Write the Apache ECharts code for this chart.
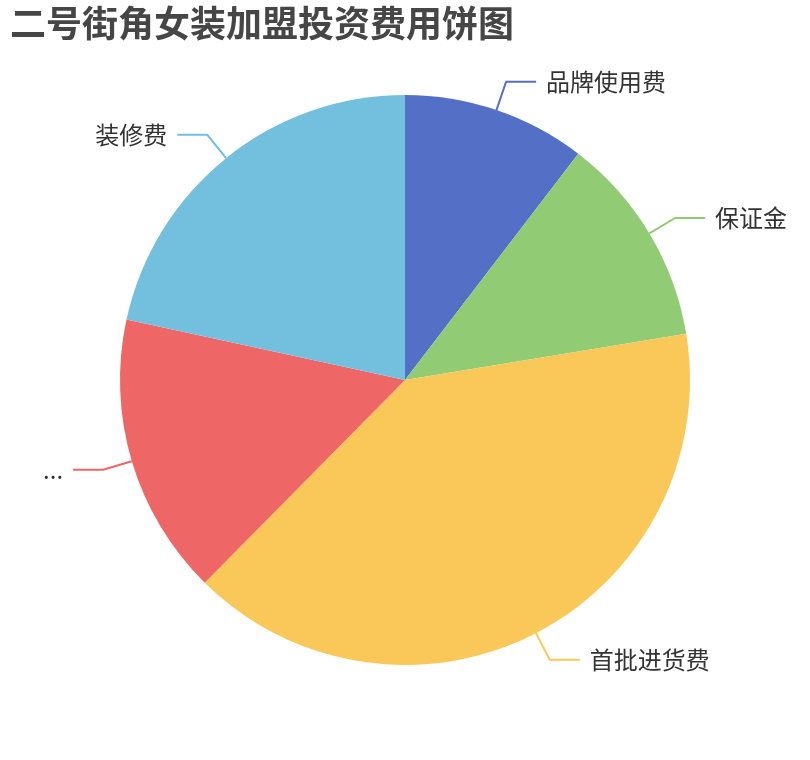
<!DOCTYPE html>
<html>
<head>
<meta charset="utf-8">
<script src="https://cdn.jsdelivr.net/npm/echarts@6/dist/echarts.min.js"></script>
<style>
html,body{margin:0;padding:0;background:#fff;}
#main{width:810px;height:760px;}
</style>
</head>
<body>
<div id="main"></div>
<script>
var titleText = '二号街角女装加盟投资费用饼图';
var categories = ['品牌使用费', '保证金', '首批进货费', '...', '装修费'];
var values = [2.6, 3, 10, 4, 5.4];
var colors = ['#5470c6', '#91cc75', '#fac858', '#ee6666', '#73c0de'];

var chart = echarts.init(document.getElementById('main'));
chart.setOption({
  color: colors,
  title: {
    text: titleText,
    left: 5,
    top: 0,
    textStyle: { fontSize: 36, fontWeight: 'bold', color: '#464646', fontFamily: 'Noto Sans CJK SC' }
  },
  series: [{
    type: 'pie',
    radius: [0, '75%'],
    center: ['50%', '50%'],
    animation: false,
    data: categories.map(function (c, i) { return { name: c, value: values[i] }; }),
    label: {
      fontSize: 24,
      color: '#333',
      fontFamily: 'Noto Sans CJK SC',
      distanceToLabelLine: 10
    },
    labelLine: { length: 30, length2: 30, lineStyle: { width: 2 } }
  }]
});
</script>
</body>
</html>
